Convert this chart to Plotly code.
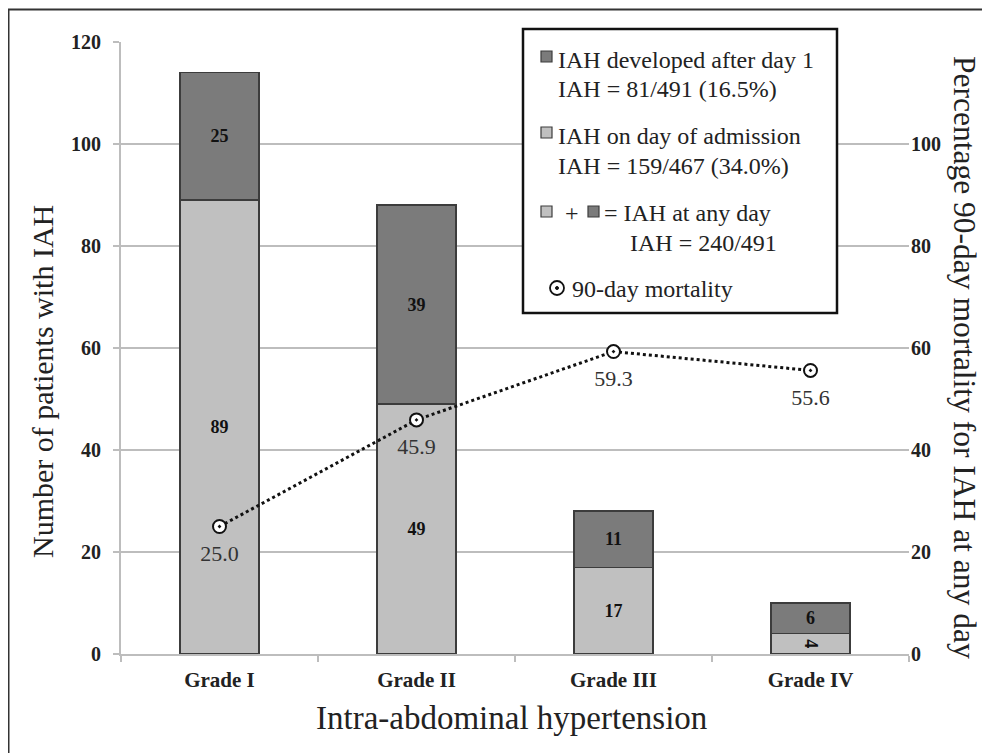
import plotly.graph_objects as go

grades = ["Grade I", "Grade II", "Grade III", "Grade IV"]
on_admission = [89, 49, 17, 4]
after_day1 = [25, 39, 11, 6]
mortality = [25.0, 45.9, 59.3, 55.6]
left_ticks = [0, 20, 40, 60, 80, 100, 120]
right_ticks = [0, 20, 40, 60, 80, 100]

FONT = "Liberation Serif"
DARK = "#7b7b7b"
LIGHT = "#c0c0c0"
EDGE = "#3c3c3c"
GRID = "#bdbdbd"

OFF = 8  # page body margin
W, H = 990 - OFF, 753 - OFF
# plot area in page pixel coordinates
L, R, T, B = 121, 909, 42, 654


def px(x):
    return (x - L) / (R - L)


def py(y):
    return (B - y) / (B - T)


fig = go.Figure()
fig.add_trace(go.Bar(
    x=grades, y=on_admission, width=0.4, marker=dict(color=LIGHT, line=dict(color=EDGE, width=1.5)),
    text=[str(v) for v in on_admission], textposition="inside", insidetextanchor="middle",
    textfont=dict(family=FONT, size=18, color="#111", weight="bold"), showlegend=False, constraintext="none"))
fig.add_trace(go.Bar(
    x=grades, y=after_day1, width=0.4, marker=dict(color=DARK, line=dict(color=EDGE, width=1.5)),
    text=[str(v) for v in after_day1], textposition="inside", insidetextanchor="middle",
    textfont=dict(family=FONT, size=18, color="#111", weight="bold"), showlegend=False, constraintext="none"))
fig.add_trace(go.Scatter(
    x=grades, y=mortality, yaxis="y2", mode="lines+markers",
    line=dict(color="#111", width=3, dash="dot"),
    marker=dict(symbol="circle-dot", size=13, color="white", line=dict(color="#111", width=2)),
    showlegend=False))
# value labels for mortality (transparent larger marker pushes text a bit further below the point)
fig.add_trace(go.Scatter(
    x=grades, y=mortality, yaxis="y2", mode="markers+text",
    marker=dict(size=27, color="rgba(0,0,0,0)"),
    text=[f"{v:.1f}" for v in mortality], textposition="bottom center",
    textfont=dict(family=FONT, size=22, color="#333"), showlegend=False, hoverinfo="skip"))

shapes = []
annotations = []
# outer frame (top and left edges visible)
shapes.append(dict(type="rect", xref="paper", yref="paper", x0=px(8.5), x1=px(1010), y0=py(9.5), y1=py(780),
                   line=dict(color="#333", width=2), fillcolor="rgba(0,0,0,0)", layer="below"))
# legend box
shapes.append(dict(type="rect", xref="paper", yref="paper", x0=px(523), x1=px(837), y0=py(313), y1=py(29),
                   line=dict(color="#111", width=2.5), fillcolor="white", layer="above"))


def square(x0, y0, color):
    shapes.append(dict(type="rect", xref="paper", yref="paper", x0=px(x0), x1=px(x0 + 11), y0=py(y0 + 11),
                       y1=py(y0), line=dict(color=EDGE, width=1.2), fillcolor=color, layer="above"))


def text(x, y, s, size=24):
    annotations.append(dict(xref="paper", yref="paper", x=px(x), y=py(y), text=s, showarrow=False,
                            xanchor="left", yanchor="middle", font=dict(family=FONT, size=size, color="#222")))


square(541, 51, DARK)
text(556, 60, "IAH developed after day 1")
text(556, 89, "IAH = 81/491 (16.5%)")
square(541, 127, LIGHT)
text(556, 136, "IAH on day of admission")
text(556, 166, "IAH = 159/467 (34.0%)")
square(541, 206, LIGHT)
text(563, 213, "+")
square(588, 206, DARK)
text(602, 213, "= IAH at any day")
text(628, 243, "IAH = 240/491")
# mortality legend symbol
shapes.append(dict(type="circle", xref="paper", yref="paper", x0=px(550), x1=px(564), y0=py(295), y1=py(281),
                   line=dict(color="#111", width=1.8), fillcolor="white", layer="above"))
shapes.append(dict(type="circle", xref="paper", yref="paper", x0=px(555.5), x1=px(558.5), y0=py(289.5), y1=py(286.5),
                   line=dict(color="#111", width=1), fillcolor="#111", layer="above"))
text(570, 289, "90-day mortality")

# axis titles
annotations.append(dict(xref="paper", yref="paper", x=px(511), y=py(718), text="Intra-abdominal hypertension",
                        showarrow=False, xanchor="center", yanchor="middle",
                        font=dict(family=FONT, size=33, color="#222")))
annotations.append(dict(xref="paper", yref="paper", x=px(42), y=py(382), text="Number of patients with IAH",
                        showarrow=False, textangle=-90, xanchor="center", yanchor="middle",
                        font=dict(family=FONT, size=30, color="#222")))
annotations.append(dict(xref="paper", yref="paper", x=px(964), y=py(357),
                        text="Percentage 90-day mortality for IAH at any day",
                        showarrow=False, textangle=90, xanchor="center", yanchor="middle",
                        font=dict(family=FONT, size=31.5, color="#222")))

fig.update_layout(
    width=W, height=H, margin=dict(l=L - OFF, r=W - (R - OFF), t=T - OFF, b=H - (B - OFF)),
    paper_bgcolor="white", plot_bgcolor="white", barmode="stack",
    uniformtext=dict(minsize=18, mode="show"),
    shapes=shapes, annotations=annotations,
    xaxis=dict(showline=True, linecolor=GRID, linewidth=2, ticks="outside", tickson="boundaries",
               ticklen=6, tickcolor=GRID, tickwidth=1.5, ticklabelstandoff=6,
               tickfont=dict(family=FONT, size=21, color="#222", weight="bold"), showgrid=False),
    yaxis=dict(range=[0, 120], tickvals=left_ticks, showline=True, linecolor=GRID, linewidth=2,
               ticks="outside", ticklen=6, tickcolor=GRID, tickwidth=1.5, showgrid=True, gridcolor=GRID,
               gridwidth=2, zeroline=False, ticklabelstandoff=8,
               tickfont=dict(family=FONT, size=20, color="#222", weight="bold")),
    yaxis2=dict(range=[0, 120], tickvals=right_ticks, overlaying="y", side="right", showgrid=False,
                showline=False, ticks="", zeroline=False, ticklabelstandoff=1,
                tickfont=dict(family=FONT, size=20, color="#222", weight="bold")),
)

fig.write_html("out.html")
